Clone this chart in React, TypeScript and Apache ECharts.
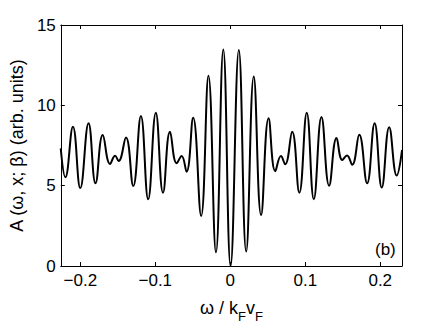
import React, { useEffect, useRef } from "react";
import * as echarts from "echarts";

// omega / kF vF at the extrema of the curve
const omega = [
  -0.2261, -0.2199, -0.2098, -0.2, -0.189, -0.1797, -0.1701, -0.1603, -0.1536, -0.1489,
  -0.1391, -0.1294, -0.1192, -0.1095, -0.0993, -0.0897, -0.0804, -0.0715, -0.0649, -0.0583,
  -0.0495, -0.0389, -0.0291, -0.0191, -0.0093, 0.0004,
  0.0114, 0.0212, 0.0313, 0.0411, 0.0511, 0.06, 0.0675, 0.0732, 0.0825, 0.0921,
  0.102, 0.1114, 0.1216, 0.1318, 0.1417, 0.1494, 0.1556, 0.1626, 0.172, 0.1825,
  0.1925, 0.202, 0.2119, 0.2219, 0.2291,
];
const amplitude = [
  7.32, 5.52, 8.67, 4.85, 8.88, 5.15, 8.15, 6.35, 6.86, 6.53,
  8.0, 4.98, 9.33, 4.15, 9.54, 4.56, 8.36, 6.39, 6.85, 5.87,
  9.23, 3.11, 11.84, 0.85, 13.48, 0.0,
  13.45, 0.9, 11.8, 3.17, 9.2, 5.9, 6.85, 6.33, 8.36, 4.56,
  9.54, 4.16, 9.27, 5.0, 7.97, 6.6, 6.88, 6.3, 8.17, 5.15,
  8.88, 4.88, 8.63, 5.63, 7.22,
];
const xTicks = [-0.2, -0.1, 0, 0.1, 0.2];

const FONT = "Liberation Sans, Arial, Helvetica, sans-serif";

export default function App() {
  const ref = useRef<HTMLDivElement>(null);
  useEffect(() => {
    if (!ref.current) return;
    const chart = echarts.init(ref.current, undefined, { renderer: "svg" });
    const data = omega.map((x, i) => [x, amplitude[i]]);
    const tickLabel = { color: "#000", fontSize: 17, fontFamily: FONT };
    chart.setOption({
      animation: false,
      backgroundColor: "#fff",
      grid: { left: 58, right: 41, top: 25, bottom: 67 },
      xAxis: [
        {
          type: "value",
          min: -0.226,
          max: 0.229,
          position: "bottom",
          name: "{a|ω / k}{s|F}{a|v}{s|F}",
          nameLocation: "middle",
          nameGap: 29,
          nameTextStyle: {
            rich: {
              a: { fontSize: 18, fontFamily: FONT, color: "#000", lineHeight: 22, verticalAlign: "bottom" },
              s: { fontSize: 13, fontFamily: FONT, color: "#000", lineHeight: 22, verticalAlign: "bottom", padding: [0, 0, -6, 0] },
            },
          },
          axisLine: { show: true, onZero: false, lineStyle: { color: "#000", width: 1 } },
          axisTick: { show: true, inside: true, length: 4, lineStyle: { color: "#000" }, customValues: xTicks },
          axisLabel: {
            ...tickLabel,
            margin: 6,
            hideOverlap: false,
            showMinLabel: true,
            showMaxLabel: true,
            customValues: xTicks,
            formatter: (v: number) => (v < 0 ? "\u2212" + Math.abs(v) : String(v)),
          },
          splitLine: { show: false },
        },
        {
          type: "value",
          min: -0.226,
          max: 0.229,
          position: "top",
          axisLine: { show: true, onZero: false, lineStyle: { color: "#000", width: 1 } },
          axisTick: { show: true, inside: true, length: 4, lineStyle: { color: "#000" }, customValues: xTicks },
          axisLabel: { show: false },
          splitLine: { show: false },
        },
      ],
      yAxis: [
        {
          type: "value",
          min: 0,
          max: 15,
          interval: 5,
          position: "left",
          name: "A (ω, x; β) (arb. units)",
          nameLocation: "middle",
          nameGap: 32,
          nameTextStyle: { fontSize: 18, fontFamily: FONT, color: "#000" },
          axisLine: { show: true, onZero: false, lineStyle: { color: "#000", width: 1 } },
          axisTick: { show: true, inside: true, length: 4, lineStyle: { color: "#000" } },
          axisLabel: { ...tickLabel, margin: 5 },
          splitLine: { show: false },
        },
        {
          type: "value",
          min: 0,
          max: 15,
          interval: 5,
          position: "right",
          axisLine: { show: true, onZero: false, lineStyle: { color: "#000", width: 1 } },
          axisTick: { show: true, inside: true, length: 4, lineStyle: { color: "#000" } },
          axisLabel: { show: false },
          splitLine: { show: false },
        },
      ],
      graphic: [
        {
          type: "text",
          left: 375,
          top: 241,
          style: { text: "(b)", fontSize: 17, fontFamily: FONT, fill: "#000" },
        },
      ],
      series: [
        {
          type: "line",
          data,
          smooth: 0.45,
          showSymbol: false,
          clip: true,
          lineStyle: { color: "#000", width: 2 },
        },
      ],
    });
    return () => chart.dispose();
  }, []);
  return (
    <div
      ref={ref}
      style={{ position: "absolute", left: 0, top: 0, width: 443, height: 333 }}
    />
  );
}
